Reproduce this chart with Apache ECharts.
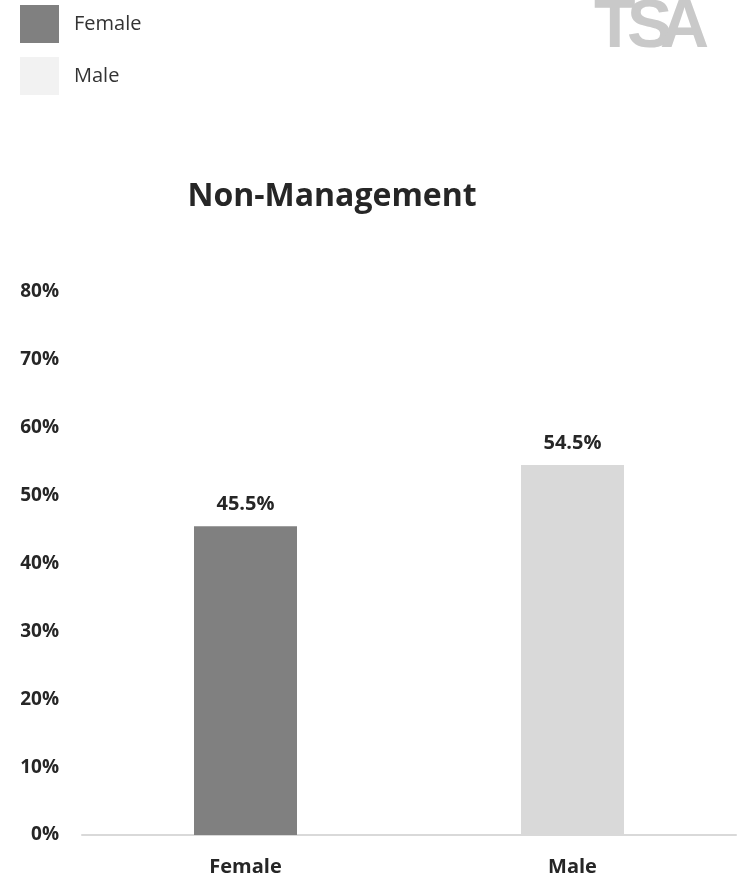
<!DOCTYPE html>
<html><head><meta charset="utf-8">
<script src="https://cdn.jsdelivr.net/npm/echarts@6/dist/echarts.min.js"></script>
<style>html,body{margin:0;padding:0;background:#fff}#c{width:741px;height:877px}</style>
</head><body><div id="c"></div>
<script>
const categories = ['Female', 'Male'];
const femaleValues = [45.5, '-'];
const maleValues = ['-', 54.5];
const yTicks = [0, 10, 20, 30, 40, 50, 60, 70, 80];
const titleText = 'Non-Management';
const logoLetters = ['T', 'S', 'A'];
const FONT = 'Open Sans';

const logoX = [594, 627, 660];
const chart = echarts.init(document.getElementById('c'));
chart.setOption({
  animation: false,
  backgroundColor: '#fff',
  title: {
    text: titleText, left: 332, top: 181, textAlign: 'center', padding: 0,
    textStyle: { fontFamily: FONT, fontSize: 32, fontWeight: 'bold', color: '#262626' }
  },
  legend: {
    orient: 'vertical', left: 20, top: 5, padding: 0, itemWidth: 39, itemHeight: 38, itemGap: 14,
    icon: 'rect',
    textStyle: { fontFamily: FONT, fontSize: 20, color: '#333', padding: [3, 0, 0, 10] },
    data: [
      { name: 'Female', itemStyle: { color: '#808080' } },
      { name: 'Male', itemStyle: { color: '#f2f2f2' } }
    ]
  },
  graphic: logoLetters.map((ch, i) => ({
    type: 'text', x: logoX[i], y: -6,
    style: { text: ch, fontFamily: 'Liberation Sans', fontWeight: 'bold', fontSize: 68,
      fill: '#c9c9c9' }
  })),
  grid: { left: 82, right: 5, top: 292, bottom: 42, containLabel: false },
  xAxis: {
    type: 'category', data: categories,
    axisLine: { lineStyle: { color: '#d9d9d9', width: 2 } },
    axisTick: { show: false },
    axisLabel: { fontFamily: FONT, fontSize: 20, fontWeight: 'bold', color: '#262626', margin: 22 }
  },
  yAxis: {
    type: 'value', min: yTicks[0], max: yTicks[yTicks.length - 1], interval: 10,
    splitLine: { show: false },
    axisLine: { show: false }, axisTick: { show: false },
    axisLabel: { fontFamily: FONT, fontSize: 19, fontWeight: 'bold', color: '#262626', margin: 23, formatter: v => v + '%' }
  },
  series: [
    { name: 'Female', type: 'bar', stack: 's', data: femaleValues, barWidth: 103,
      itemStyle: { color: '#808080' },
      label: { show: true, position: 'top', distance: 12, formatter: p => p.value + '%',
        fontFamily: FONT, fontSize: 20, fontWeight: 'bold', color: '#262626' } },
    { name: 'Male', type: 'bar', stack: 's', data: maleValues, barWidth: 103,
      itemStyle: { color: '#d9d9d9' },
      label: { show: true, position: 'top', distance: 12, formatter: p => p.value + '%',
        fontFamily: FONT, fontSize: 20, fontWeight: 'bold', color: '#262626' } }
  ]
});
</script></body></html>
